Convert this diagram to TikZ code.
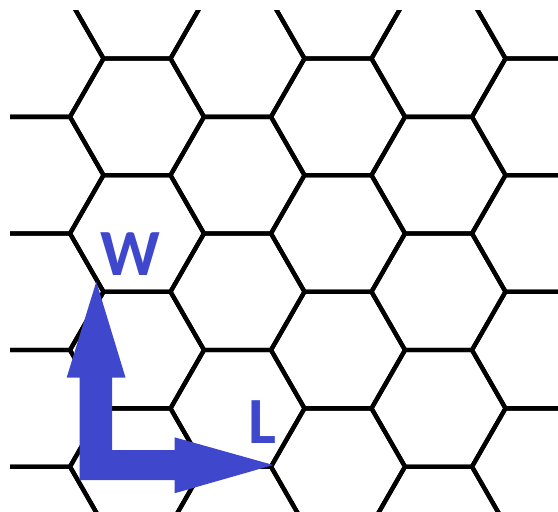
\documentclass[tikz,border=0pt]{standalone}
\usepackage{fontspec}
\setmainfont{Carlito}
\definecolor{axisblue}{HTML}{3F48CC}
\tikzset{
  hexline/.style={draw=black, line width=4.3pt},
  axisarrow/.style={fill=axisblue, draw=none},
  axislabel/.style={text=axisblue, inner sep=0pt, anchor=base,
    font=\fontsize{66}{66}\selectfont\bfseries}
}
\begin{document}
\begin{tikzpicture}[x=1pt, y=-1pt]
  % page frame
  \useasboundingbox (0,0) rectangle (558,512);

  % honeycomb lattice of flat-topped hexagons (side 67)
  \begin{scope}
    \clip (10,10) rectangle (558,512);
    \foreach \i in {-1,...,5} {
      \foreach \j in {-1,...,5} {
        \pgfmathsetmacro\cx{137+100.5*\i}
        \pgfmathsetmacro\cy{58.55+58.3*(2*\j+1-mod(\i+2,2))}
        \draw[hexline] (\cx,\cy) ++(-67,0) -- ++(33.5,-58.3) -- ++(67,0)
          -- ++(33.5,58.3) -- ++(-33.5,58.3) -- ++(-67,0) -- cycle;
      }
    }
  \end{scope}

  % axis arrows sharing one corner
  \coordinate (corner) at (79.5,480);
  \coordinate (wtip) at (96.3,281.7);
  \coordinate (ltip) at (273.3,465);
  \fill[axisarrow] (corner) -- (79.5,377.5) -- (66.7,377.5) -- (wtip)
    -- (125.5,377.5) -- (112,377.5) -- (112,450) -- (174.5,450)
    -- (174.5,437.3) -- (ltip) -- (174.5,493.3) -- (174.5,480) -- cycle;

  % axis labels
  \node[axislabel] (wlabel) at (130,275) {W};
  \node[axislabel] (llabel) at (262,443.3) {L};
\end{tikzpicture}
\end{document}
